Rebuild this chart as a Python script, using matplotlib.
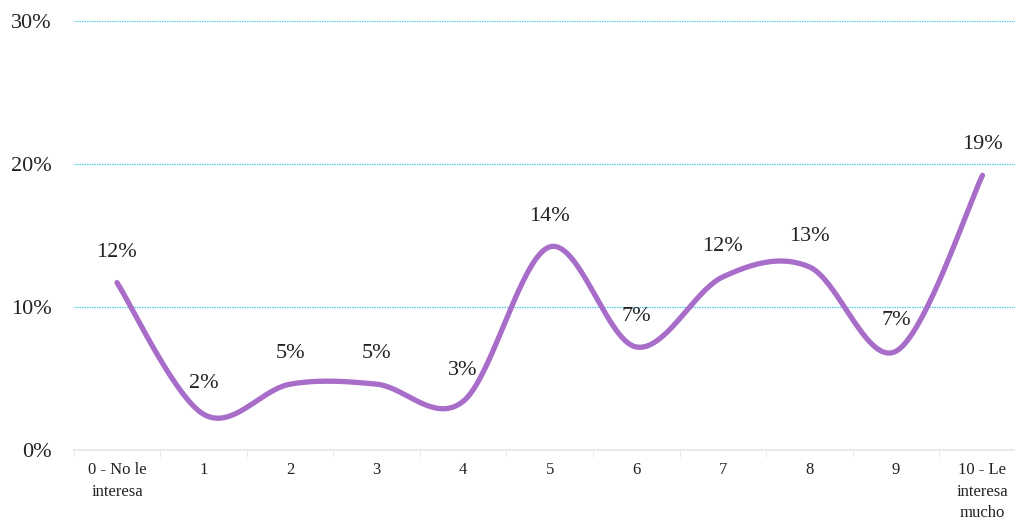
import numpy as np
import matplotlib.pyplot as plt
from matplotlib.ticker import FixedLocator

categorias = ['0 - No le\ninteresa', '1', '2', '3', '4', '5', '6', '7', '8', '9', '10 - Le\ninteresa\nmucho']
valores = [11.7, 2.5, 4.6, 4.6, 3.4, 14.2, 7.2, 12.1, 12.8, 6.9, 19.2]
yticks = [0, 10, 20, 30]
ytick_labels = ['0%', '10%', '20%', '30%']

color_linea = '#A86CC9'
fuente = 'Liberation Serif'


def suavizar(x, y, n=40):
    # curva bezier tipo Excel (Catmull-Rom)
    x = np.asarray(x, float)
    y = np.asarray(y, float)
    px = np.concatenate([[x[0]], x, [x[-1]]])
    py = np.concatenate([[y[0]], y, [y[-1]]])
    t = np.linspace(0, 1, n)
    xs, ys = [], []
    for i in range(1, len(px) - 2):
        p0 = np.array([px[i], py[i]])
        p3 = np.array([px[i + 1], py[i + 1]])
        c1 = p0 + (np.array([px[i + 1], py[i + 1]]) - np.array([px[i - 1], py[i - 1]])) / 6
        c2 = p3 - (np.array([px[i + 2], py[i + 2]]) - np.array([px[i], py[i]])) / 6
        b = ((1 - t) ** 3)[:, None] * p0 + (3 * (1 - t) ** 2 * t)[:, None] * c1 \
            + (3 * (1 - t) * t ** 2)[:, None] * c2 + (t ** 3)[:, None] * p3
        xs.append(b[:, 0])
        ys.append(b[:, 1])
    return np.concatenate(xs), np.concatenate(ys)


x = np.arange(len(valores))
xs, ys = suavizar(x, valores)

fig = plt.figure(figsize=(10.15, 5.22), dpi=100)
ax = fig.add_axes([0.0726, 0.138, 0.938, 0.822])

ax.plot(xs, ys, color=color_linea, lw=3.8, solid_capstyle='round', zorder=3)

for xi, v in zip(x, valores):
    ax.annotate(f'{v:.0f}%', (xi, v), xytext=(0, 22), textcoords='offset points',
                ha='center', va='center', fontsize=16, family=fuente, color='#222222')

ax.set_xlim(-0.5, len(valores) - 0.5)
ax.set_ylim(0, 30)
ax.set_yticks(yticks)
ax.set_yticklabels(ytick_labels, fontsize=16, family=fuente, color='#222222')
ax.set_xticks(x)
ax.set_xticklabels(categorias, fontsize=12, family=fuente, color='#222222', linespacing=1.45, va='top')
ax.xaxis.set_minor_locator(FixedLocator(np.arange(-0.5, len(valores), 1)))
ax.tick_params(axis='x', which='major', length=0, pad=9)
ax.tick_params(axis='x', which='minor', length=5, color='#E6E6E6')
ax.tick_params(axis='y', length=0, pad=16)

ax.grid(axis='y', color='#4FCDEB', linestyle=(0, (1.2, 0.8)), linewidth=0.9)
ax.set_axisbelow(True)
for s in ['top', 'right', 'left']:
    ax.spines[s].set_visible(False)
ax.spines['bottom'].set_color('#E6E6E6')
ax.spines['bottom'].set_linewidth(1.2)

plt.savefig('out.png', dpi=100)
